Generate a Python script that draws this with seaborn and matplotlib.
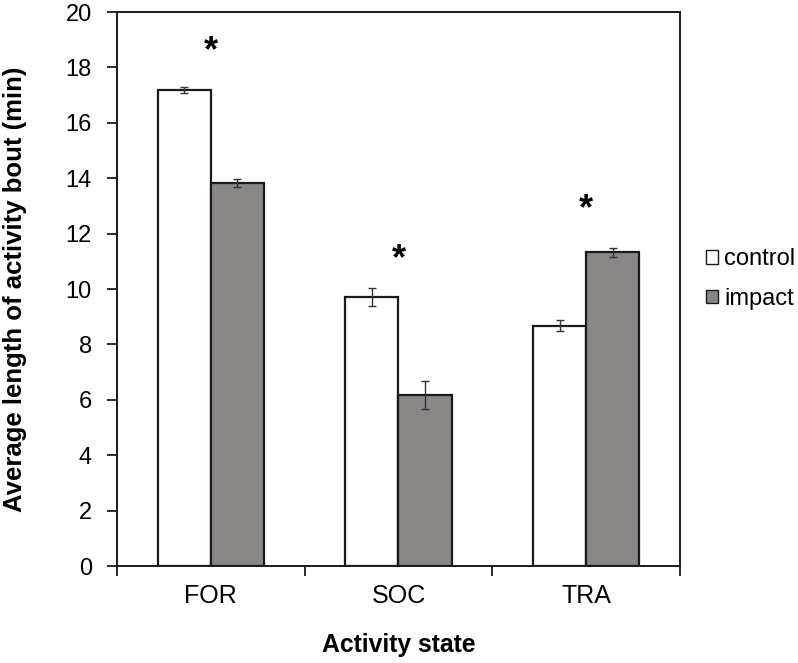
import numpy as np
import pandas as pd
import matplotlib
matplotlib.use("Agg")
import matplotlib.pyplot as plt
import seaborn as sns

# Values
states = ["FOR", "SOC", "TRA"]
groups = ["control", "impact"]
control_mean = [17.18, 9.72, 8.68]
impact_mean = [13.82, 6.18, 11.33]
control_err = [0.10, 0.32, 0.19]
impact_err = [0.15, 0.50, 0.16]
star_height = [18.55, 11.05, 12.85]

df = pd.DataFrame({
    "state": states * 2,
    "group": ["control"] * 3 + ["impact"] * 3,
    "mean": control_mean + impact_mean,
    "err": control_err + impact_err,
})

sns.set_style("white")
plt.rcParams["font.family"] = ["Liberation Sans", "DejaVu Sans"]
plt.rcParams["text.color"] = "black"
plt.rcParams["xtick.color"] = "#1a1a1a"
plt.rcParams["ytick.color"] = "#1a1a1a"

fig = plt.figure(figsize=(7.98, 6.63), dpi=100)
ax = fig.add_axes([0.1466, 0.1463, 0.7054, 0.8356])

sns.barplot(
    data=df, x="state", y="mean", hue="group", hue_order=groups,
    palette={"control": "white", "impact": "#8a8684"},
    edgecolor="#1a1a1a", linewidth=1.6, width=0.566, errorbar=None, ax=ax,
)

# error bars on top of the drawn bars
for patch, (_, row) in zip(ax.patches, df.iterrows()):
    cx = patch.get_x() + patch.get_width() / 2
    ax.errorbar(cx, patch.get_height(), yerr=row["err"], fmt="none",
                ecolor="#333333", elinewidth=1.0, capsize=3, capthick=1.0)

# significance markers
for i, h in enumerate(star_height):
    ax.text(i, h, "*", ha="center", va="center", fontsize=26,
            fontweight="bold", color="black")

ax.set_ylim(0, 20)
ax.set_xlim(-0.5, 2.5)
ax.set_yticks(np.arange(0, 21, 2))
ax.set_xticks(range(3))
ax.set_xticks([-0.5, 0.5, 1.5, 2.5], minor=True)
ax.tick_params(axis="x", which="major", length=0, pad=13, labelsize=18,
               labelcolor="black")
ax.tick_params(axis="x", which="minor", length=7, width=1.3, direction="out", bottom=True)
ax.tick_params(axis="y", length=7, width=1.3, direction="out", left=True,
               labelsize=17, pad=11, labelcolor="black")

for s in ax.spines.values():
    s.set_color("#1a1a1a")
    s.set_linewidth(1.4)

ax.set_xlabel("Activity state", fontsize=17.8, fontweight="bold", color="black")
ax.set_ylabel("Average length of activity bout (min)", fontsize=18.5,
              fontweight="bold", color="black")
ax.xaxis.set_label_coords(0.5, -0.1426)
ax.xaxis.label.set_va("center")
ax.yaxis.set_label_coords(-0.181, 0.5)
ax.yaxis.label.set_va("center")

leg = ax.legend(loc="center left", bbox_to_anchor=(1.046, 0.518), frameon=False,
                fontsize=17, handlelength=0.5, handleheight=0.5, handletextpad=0.28,
                labelspacing=0.75, borderpad=0, borderaxespad=0)
for h in leg.legend_handles:
    h.set_linewidth(1.0)

fig.savefig("out.png", dpi=100)
